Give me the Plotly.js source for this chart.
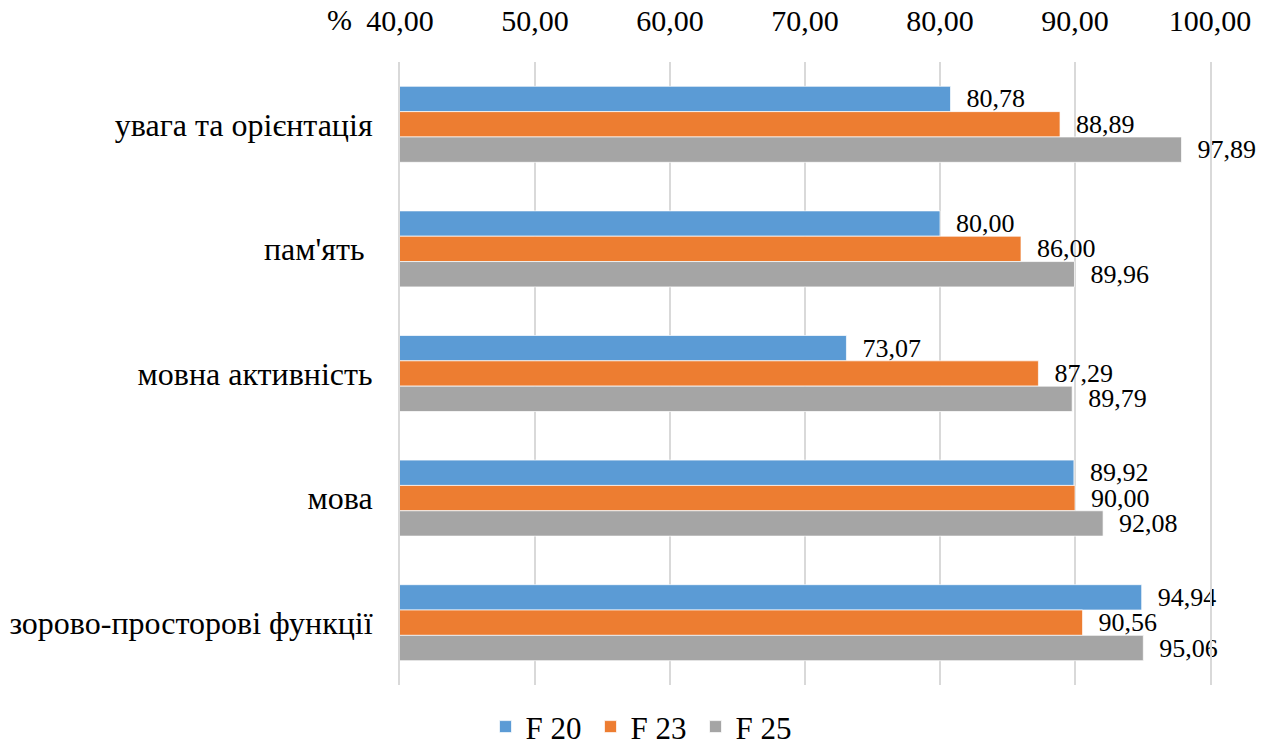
<!DOCTYPE html>
<html>
<head>
<meta charset="utf-8">
<script src="https://cdn.plot.ly/plotly-3.0.1.min.js"></script>
<style>html,body{margin:0;padding:0;background:#fff;}#chart{width:1273px;height:747px;}</style>
</head>
<body>
<div id="chart"></div>
<script>
var categories = ["увага та орієнтація", "пам'ять ", "мовна активність", "мова", "зорово-просторові функції"];
var seriesNames = ["F 20", "F 23", "F 25"];
var f20 = [80.78, 80.00, 73.07, 89.92, 94.94];
var f23 = [88.89, 86.00, 87.29, 90.00, 90.56];
var f25 = [97.89, 89.96, 89.79, 92.08, 95.06];
var tickVals = [40, 50, 60, 70, 80, 90, 100];
var colors = ["#5b9bd5", "#ed7d31", "#a5a5a5"];

var FONT = "Liberation Serif";
var series = [f20, f23, f25];
var traces = series.map(function (vals, i) {
  return {
    type: "bar",
    orientation: "h",
    name: seriesNames[i],
    y: categories,
    x: vals,
    marker: { color: colors[i], line: { color: "rgba(255,255,255,0.7)", width: 1 } },
    texttemplate: "\u00a0\u00a0%{x:.2f}",
    textposition: "outside",
    constraintext: "none",
    cliponaxis: false,
    textfont: { family: FONT, size: 26, color: "#000" },
    hoverinfo: "x+name"
  };
});

var layout = {
  width: 1273,
  height: 747,
  autosize: false,
  separators: ", ",
  barmode: "group",
  bargap: 0.39,
  bargroupgap: 0,
  margin: { l: 400, r: 63, t: 62, b: 62, autoexpand: false },
  paper_bgcolor: "#fff",
  plot_bgcolor: "#fff",
  font: { family: FONT, color: "#000" },
  xaxis: {
    side: "top",
    range: [40, 100],
    tickvals: tickVals,
    tickformat: ".2f",
    tickangle: 0,
    automargin: false,
    showgrid: true,
    gridcolor: "#d9d9d9",
    gridwidth: 2,
    zeroline: false,
    showline: false,
    ticks: "",
    ticklabelstandoff: 24,
    tickfont: { family: FONT, size: 30, color: "#000" }
  },
  yaxis: {
    autorange: "reversed",
    automargin: false,
    showgrid: false,
    zeroline: false,
    showline: true,
    mirror: true,
    linecolor: "#d9d9d9",
    linewidth: 2,
    ticks: "",
    ticklabelstandoff: 19,
    tickfont: { family: FONT, size: 32, color: "#000" }
  },
  legend: {
    orientation: "h",
    x: 0.3,
    xanchor: "center",
    y: -0.024,
    yanchor: "top",
    entrywidth: 60,
    font: { family: FONT, size: 31, color: "#000" },
    traceorder: "normal"
  },
  annotations: [{
    text: "%",
    xref: "x",
    x: 40,
    yref: "paper",
    y: 1,
    xanchor: "right",
    yanchor: "bottom",
    xshift: -46,
    yshift: 24,
    showarrow: false,
    font: { family: FONT, size: 30, color: "#000" }
  }]
};

Plotly.newPlot("chart", traces, layout, { displayModeBar: false, responsive: false });
</script>
</body>
</html>
